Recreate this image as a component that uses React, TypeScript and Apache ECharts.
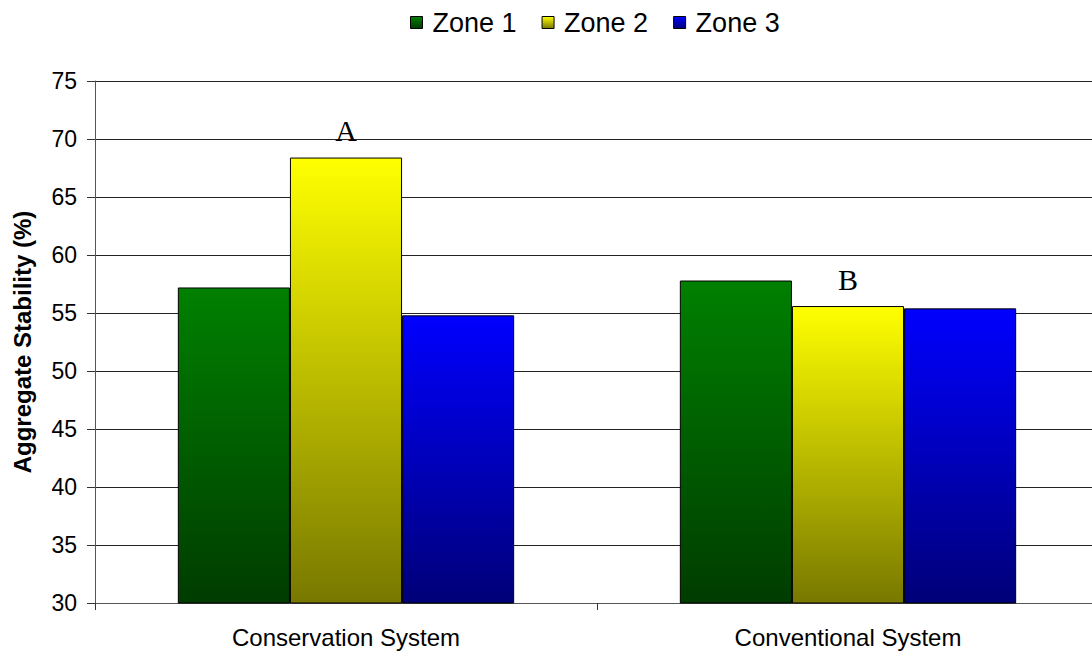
import React, { useEffect, useRef } from "react";
import * as echarts from "echarts";

const categories = ["Conservation System", "Conventional System"];
const seriesNames = ["Zone 1", "Zone 2", "Zone 3"];
const zone1 = [57.2, 57.8];
const zone2 = [68.4, 55.6];
const zone3 = [54.8, 55.4];
const zone2Letters = ["A", "B"];
const yMin = 30;
const yMax = 75;
const yStep = 5;

const topColors = ["#008000", "#ffff00", "#0000ff"];
const bottomColors = ["#003c00", "#787800", "#000078"];

function grad(i: number) {
  return new echarts.graphic.LinearGradient(0, 0, 0, 1, [
    { offset: 0, color: topColors[i] },
    { offset: 1, color: bottomColors[i] },
  ]);
}

export default function App() {
  const ref = useRef<HTMLDivElement>(null);
  useEffect(() => {
    if (!ref.current) return;
    const chart = echarts.init(ref.current, null, { renderer: "svg" });
    const values = [zone1, zone2, zone3];
    chart.setOption({
      animation: false,
      backgroundColor: "#ffffff",
      textStyle: { fontFamily: "Liberation Sans, Arial, sans-serif" },
      legend: {
        top: 4,
        left: 405,
        itemWidth: 12,
        itemHeight: 12,
        itemGap: 25,
        icon: "rect",
        itemStyle: { borderColor: "#000", borderWidth: 1 },
        textStyle: {
          fontSize: 27,
          color: "#000",
          padding: [0, 0, 0, 5],
          fontFamily: "Liberation Sans, Arial, sans-serif",
        },
        data: seriesNames,
      },
      grid: { left: 95, top: 81, right: 1, bottom: 49, containLabel: false },
      xAxis: {
        type: "category",
        data: categories,
        axisLine: { lineStyle: { color: "#555", width: 1 } },
        axisTick: { show: true, length: 7, interval: 0, lineStyle: { color: "#333" } },
        axisLabel: { fontSize: 24, color: "#000", margin: 22, interval: 0 },
      },
      yAxis: {
        type: "value",
        min: yMin,
        max: yMax,
        interval: yStep,
        name: "Aggregate Stability (%)",
        nameLocation: "middle",
        nameGap: 61,
        nameTextStyle: { fontSize: 24, fontWeight: "bold", color: "#000" },
        axisLine: { show: true, lineStyle: { color: "#555", width: 1 } },
        axisTick: { show: true, length: 8, lineStyle: { color: "#333" } },
        axisLabel: { fontSize: 23, color: "#000", margin: 18 },
        splitLine: { show: true, lineStyle: { color: "#222", width: 1 } },
      },
      series: seriesNames.map((name, i) => ({
        name,
        type: "bar",
        barGap: "0%",
        barCategoryGap: "33%",
        itemStyle: { color: grad(i), borderColor: "#000", borderWidth: 1 },
        data: values[i].map((v, j) =>
          i === 1
            ? {
                value: v,
                label: {
                  show: true,
                  position: "top",
                  distance: 12,
                  formatter: zone2Letters[j],
                  fontFamily: "Liberation Serif, Times New Roman, serif",
                  fontSize: 30,
                  color: "#000",
                },
              }
            : v
        ),
      })),
    });
    return () => chart.dispose();
  }, []);
  return (
    <div
      style={{
        position: "absolute",
        left: 0,
        top: 0,
        width: 1092,
        height: 652,
        overflow: "hidden",
        background: "#fff",
      }}
    >
      <div ref={ref} style={{ width: 1100, height: 652 }} />
    </div>
  );
}
